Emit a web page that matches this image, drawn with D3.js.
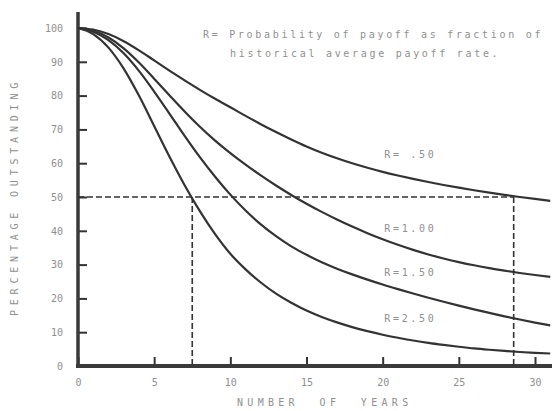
<!DOCTYPE html>
<html>
<head>
<meta charset="utf-8">
<script src="https://cdn.jsdelivr.net/npm/d3@7"></script>
<style>
  html, body { margin: 0; padding: 0; background: #fff; }
  text { font-family: "DejaVu Sans Mono", monospace; fill: #8f8f8f; }
</style>
</head>
<body>
<div id="container"></div>
<script>
// years on the x axis and percentage outstanding for each R
const years = [0, 1, 2, 3, 4, 5, 6, 7, 8, 9, 10, 11, 12, 13, 14, 15, 16, 17, 18, 19, 20, 21, 22, 23, 24, 25, 26, 27, 28, 29, 30, 31];
const r050 = [100, 99.5, 98.2, 96.1, 93.4, 90.4, 87.4, 84.5, 81.7, 79.05, 76.55, 74.0, 71.55, 69.22, 67.02, 64.95,
              63.1, 61.45, 59.97, 58.64, 57.44, 56.36, 55.36, 54.43, 53.56, 52.75, 51.99, 51.28, 50.62, 50.0, 49.42, 48.87];
const r100 = [100, 99.2, 97.2, 94.0, 89.8, 85.0, 80.1, 75.3, 70.8, 66.7, 63.0, 59.6, 56.4, 53.4, 50.6, 48.0,
              45.6, 43.35, 41.25, 39.3, 37.5, 35.85, 34.35, 33.0, 31.8, 30.75, 29.8, 28.95, 28.2, 27.52, 26.92, 26.37];
const r150 = [100, 98.9, 96.4, 92.5, 87.3, 81.2, 74.7, 68.1, 61.8, 56.0, 50.7, 46.0, 41.9, 38.4, 35.4, 32.9,
              30.7, 28.8, 27.1, 25.55, 24.1, 22.75, 21.45, 20.2, 19.0, 17.85, 16.75, 15.7, 14.7, 13.75, 12.85, 12.0];
const r250 = [100, 98.2, 94.2, 88.0, 80.0, 71.0, 62.0, 53.5, 45.8, 39.0, 33.2, 28.6, 24.7, 21.4, 18.7, 16.4,
              14.5, 12.9, 11.5, 10.3, 9.25, 8.35, 7.55, 6.85, 6.25, 5.7, 5.2, 4.8, 4.45, 4.15, 3.9, 3.7];

const seriesLabels = ['R= .50', 'R=1.00', 'R=1.50', 'R=2.50'];
const labelPos = [[20.1, 62.5], [20.1, 40.5], [20.1, 27.5], [20.1, 14]];

// tick values
const xTicks = [0, 5, 10, 15, 20, 25, 30];
const yTicks = [0, 10, 20, 30, 40, 50, 60, 70, 80, 90, 100];

// the 50% guide and where it meets the curves
const halfLevel = 50;
const halfYears = [7.5, 28.6];

const noteLines = ['R= Probability of payoff as fraction of', 'historical average payoff rate.'];

// svg dimensions
const width = 552;
const height = 411;

const svg = d3.select('#container')
              .append('svg')
              .attr('width', width)
              .attr('height', height);

// scales
const xScale = d3.scaleLinear()
                 .domain([0, 30])
                 .range([78, 535]);

const yScale = d3.scaleLinear()
                 .domain([0, 100])
                 .range([366, 28]);

// axes
const xAxis = d3.axisBottom(xScale)
                .tickValues(xTicks)
                .tickSizeInner(-9)
                .tickSizeOuter(0)
                .tickPadding(13);

const yAxis = d3.axisLeft(yScale)
                .tickValues(yTicks)
                .tickSizeInner(-9)
                .tickSizeOuter(0)
                .tickPadding(15);

const gx = svg.append('g')
              .attr('transform', `translate(0,${yScale(0)})`)
              .call(xAxis);

const gy = svg.append('g')
              .attr('transform', `translate(${xScale(0)},0)`)
              .call(yAxis);

[gx, gy].forEach(g => {
    g.select('.domain').remove();
    g.selectAll('.tick line').attr('stroke', '#333').attr('stroke-width', 2);
    g.selectAll('.tick text')
     .attr('font-size', 10)
     .attr('fill', '#8f8f8f')
     .style('font-family', '"DejaVu Sans Mono", monospace');
});

// thick axis lines
svg.append('line')
   .attr('x1', xScale(0)).attr('x2', xScale(0))
   .attr('y1', 12).attr('y2', yScale(0) + 2)
   .attr('stroke', '#3a3a3a')
   .attr('stroke-width', 3.5);

svg.append('line')
   .attr('x1', xScale(0) - 2).attr('x2', width)
   .attr('y1', yScale(0)).attr('y2', yScale(0))
   .attr('stroke', '#3a3a3a')
   .attr('stroke-width', 4);

// dashed guides
svg.append('line')
   .attr('x1', xScale(0)).attr('x2', xScale(halfYears[1]))
   .attr('y1', yScale(halfLevel)).attr('y2', yScale(halfLevel))
   .attr('stroke', '#333')
   .attr('stroke-width', 1.6)
   .attr('stroke-dasharray', '6,3');

svg.selectAll('.vguide')
   .data(halfYears)
   .enter()
   .append('line')
   .attr('class', 'vguide')
   .attr('x1', d => xScale(d)).attr('x2', d => xScale(d))
   .attr('y1', yScale(halfLevel)).attr('y2', yScale(0))
   .attr('stroke', '#333')
   .attr('stroke-width', 1.6)
   .attr('stroke-dasharray', '6,3');

// curves
const line = d3.line()
               .x((d, i) => xScale(years[i]))
               .y(d => yScale(d))
               .curve(d3.curveMonotoneX);

svg.selectAll('.curve')
   .data([r050, r100, r150, r250])
   .enter()
   .append('path')
   .attr('class', 'curve')
   .attr('d', line)
   .attr('fill', 'none')
   .attr('stroke', '#333')
   .attr('stroke-width', 2.2);

// curve labels
svg.selectAll('.rlabel')
   .data(seriesLabels)
   .enter()
   .append('text')
   .attr('class', 'rlabel')
   .attr('x', (d, i) => xScale(labelPos[i][0]))
   .attr('y', (d, i) => yScale(labelPos[i][1]))
   .attr('font-size', 10)
   .attr('letter-spacing', 2.7)
   .attr('dominant-baseline', 'middle')
   .text(d => d);

// note at top
svg.selectAll('.note')
   .data(noteLines)
   .enter()
   .append('text')
   .attr('class', 'note')
   .attr('x', (d, i) => i === 0 ? 203 : 230)
   .attr('y', (d, i) => 35 + i * 19)
   .attr('font-size', 10)
   .attr('letter-spacing', 2.7)
   .attr('dominant-baseline', 'middle')
   .text(d => d);

// axis titles
svg.append('text')
   .attr('x', 237)
   .attr('y', 403)
   .attr('font-size', 10)
   .attr('letter-spacing', 4.3)
   .attr('dominant-baseline', 'middle')
   .attr('xml:space', 'preserve')
   .text('NUMBER  OF  YEARS');

svg.append('text')
   .attr('transform', 'translate(15,197) rotate(-90)')
   .attr('text-anchor', 'middle')
   .attr('font-size', 10)
   .attr('letter-spacing', 4.8)
   .attr('dominant-baseline', 'middle')
   .text('PERCENTAGE OUTSTANDING');
</script>
</body>
</html>
